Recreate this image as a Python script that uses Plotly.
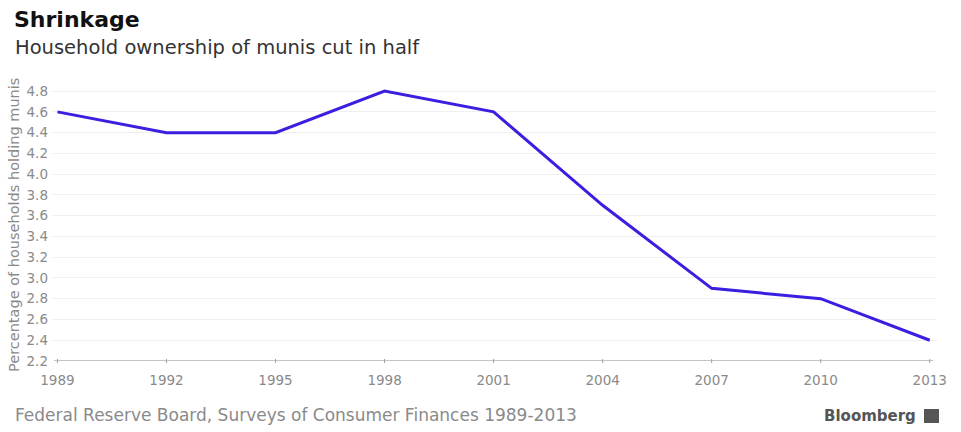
import plotly.graph_objects as go

# Share of households holding municipal bonds, Fed SCF survey years
years = [1989, 1992, 1995, 1998, 2001, 2004, 2007, 2010, 2013]
pct_holding = [4.6, 4.4, 4.4, 4.8, 4.6, 3.7, 2.9, 2.8, 2.4]

y_ticks = [2.2, 2.4, 2.6, 2.8, 3.0, 3.2, 3.4, 3.6, 3.8, 4.0, 4.2, 4.4, 4.6, 4.8]

FONT = "DejaVu Sans, Verdana, sans-serif"
W, H = 961, 432
ML, MR, MT, MB = 52, 24, 88, 71
PW, PH = W - ML - MR, H - MT - MB


def px_x(px):
    """Horizontal page pixel -> paper coordinate."""
    return (px - ML) / PW


def px_y(py):
    """Vertical page pixel (from top) -> paper coordinate."""
    return 1 - (py - MT) / PH


fig = go.Figure()
fig.add_trace(go.Scatter(
    x=years, y=pct_holding, mode="lines",
    line=dict(color="#3a1fe0", width=3),
    hoverinfo="x+y", showlegend=False,
))

fig.update_layout(
    width=W, height=H,
    margin=dict(l=ML, r=MR, t=MT, b=MB),
    paper_bgcolor="white", plot_bgcolor="white",
    font=dict(family=FONT, color="#8a8a8a"),
    xaxis=dict(
        range=[1988.85, 2013.2],
        tickvals=years, ticktext=[str(y) for y in years],
        showgrid=False, zeroline=False, showline=False,
        ticks="", tickfont=dict(size=13.5, color="#8a8a8a"),
        ticklabelstandoff=9,
    ),
    yaxis=dict(
        range=[2.2, 4.83],
        tickvals=y_ticks, ticktext=[f"{v:.1f}" for v in y_ticks],
        showgrid=True, gridcolor="#f0f0f0", gridwidth=1,
        zeroline=False, showline=False, ticks="",
        tickfont=dict(size=13.5, color="#8a8a8a"),
        ticklabelstandoff=3,
    ),
    annotations=[
        dict(text="<b>Shrinkage</b>", xref="paper", yref="paper",
             x=px_x(12), y=px_y(19),
             xanchor="left", yanchor="middle", showarrow=False,
             font=dict(size=22, color="#111111", family=FONT)),
        dict(text="Household ownership of munis cut in half", xref="paper", yref="paper",
             x=px_x(13), y=px_y(47),
             xanchor="left", yanchor="middle", showarrow=False,
             font=dict(size=19.5, color="#333333", family=FONT)),
        dict(text="Percentage of households holding munis", xref="paper", yref="paper",
             x=px_x(14), y=px_y(225),
             xanchor="center", yanchor="middle", textangle=-90, showarrow=False,
             font=dict(size=14.5, color="#8a8a8a", family=FONT)),
        dict(text="Federal Reserve Board, Surveys of Consumer Finances 1989-2013",
             xref="paper", yref="paper",
             x=px_x(13), y=px_y(415),
             xanchor="left", yanchor="middle", showarrow=False,
             font=dict(size=17, color="#8a8a8a", family=FONT)),
        dict(text="<b>Bloomberg</b>", xref="paper", yref="paper",
             x=px_x(918), y=px_y(416),
             xanchor="right", yanchor="middle", showarrow=False,
             font=dict(size=15, color="#555555", family=FONT)),
    ],
    shapes=[
        # baseline axis
        dict(type="line", xref="x", yref="y", x0=1988.9, x1=2013.1, y0=2.2, y1=2.2,
             line=dict(color="#b0b0b0", width=1.5)),
        # Bloomberg logo square
        dict(type="rect", xref="paper", yref="paper",
             x0=px_x(924), x1=px_x(939), y0=px_y(423), y1=px_y(409),
             fillcolor="#555555", line=dict(width=0)),
    ] + [
        # small ticks on the baseline at each survey year
        dict(type="line", xref="x", yref="paper", x0=yr, x1=yr,
             y0=-2 / PH, y1=2 / PH,
             line=dict(color="#a0a0a0", width=1))
        for yr in years
    ],
)

fig.write_html("out.html")
